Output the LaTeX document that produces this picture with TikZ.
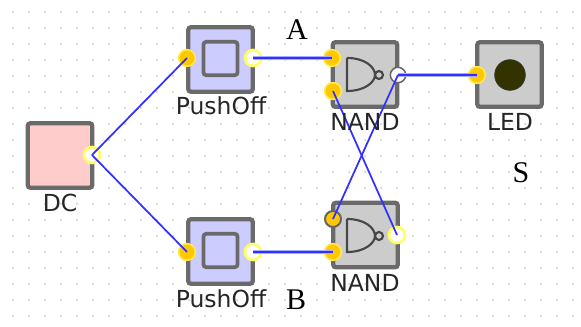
\documentclass[tikz,border=0pt]{standalone}
\usepackage{fontspec}
\setmainfont{Liberation Serif}
\newfontfamily\lblfont{DejaVu Sans}
\definecolor{edgegray}{HTML}{6A6A6A}
\definecolor{pinkfill}{HTML}{FFCCCC}
\definecolor{bluefill}{HTML}{CCCCFF}
\definecolor{grayfill}{HTML}{CCCCCC}
\definecolor{portyellow}{HTML}{FFC800}
\definecolor{whiteringc}{HTML}{FFFF66}
\definecolor{wireblue}{HTML}{3030FF}
\definecolor{ledfill}{HTML}{333300}
\tikzset{
  x=0.75pt,y=-0.75pt,
  griddot/.style={fill=black!22,draw=none},
  blockbox/.style={draw=edgegray,line width=3.2pt,rounded corners=2.2pt,minimum size=48.5pt,inner sep=0pt,outer sep=0pt},
  innerbox/.style={draw=edgegray,line width=2.8pt,rounded corners=2pt,fill=bluefill,minimum width=25.5pt,minimum height=25pt,inner sep=0pt},
  portin/.style={circle,fill=portyellow,draw=portyellow!60!yellow!70!white,line width=1.2pt,minimum size=12.5pt,inner sep=0pt},
  portinact/.style={circle,fill=portyellow,draw=black!60,line width=1.5pt,minimum size=12pt,inner sep=0pt},
  portout/.style={circle,fill=white,draw=whiteringc,line width=2pt,minimum size=12pt,inner sep=0pt},
  portoutact/.style={circle,fill=white,draw=black!60,line width=1.1pt,minimum size=11.5pt,inner sep=0pt},
  wire/.style={draw=wireblue,line width=1.3pt},
  busy/.style={draw=wireblue!40,line width=3.4pt},
  blocklabel/.style={font=\lblfont\fontsize{17.6}{17.6}\selectfont,text=black!85,inner sep=0pt},
  bigletter/.style={font=\fontsize{22.5}{22.5}\selectfont,inner sep=0pt},
  gateline/.style={draw=black!72,line width=1.6pt},
}
\begin{document}
\begin{tikzpicture}
\useasboundingbox (0,0) rectangle (581,327);
\fill[white] (0,0) rectangle (581,327);
\foreach \i in {0,...,35}{\foreach \j in {0,...,19}{
  \fill[griddot] ({13+16*\i},{12+16*\j}) circle (0.75pt);}}
% blocks
\node[blockbox,fill=pinkfill] (dc) at (60,155.5) {};
\node[blockbox,fill=bluefill] (po1) at (220.5,59.5) {};
\node[innerbox] (po1i) at (220.5,58.5) {};
\node[blockbox,fill=bluefill] (po2) at (220.5,251.5) {};
\node[innerbox] (po2i) at (220.5,250.5) {};
\node[blockbox,fill=grayfill] (n1) at (365,74.5) {};
\node[blockbox,fill=grayfill] (n2) at (365.5,235) {};
\node[blockbox,fill=grayfill] (led) at (509.5,74.5) {};
\node[circle,fill=ledfill,draw=black!80,line width=0.5pt,minimum size=23pt,inner sep=0pt] (ledc) at (510,75) {};
% gates
\draw[gateline] (347,58) -- (347,91) .. controls (365,91) and (375,82) .. (375,75) .. controls (375,67) and (365,58) .. (347,58);
\draw[gateline,fill=grayfill] (379,75) circle (3pt);
\draw[gateline] (347,219) -- (347,252) .. controls (365,252) and (375,243) .. (375,236) .. controls (375,228) and (365,219) .. (347,219);
\draw[gateline,fill=grayfill] (379,236) circle (3pt);
% ports
\node[portout] (dcout) at (92,155) {};
\node[portin] (po1in) at (187,58) {};
\node[portout] (po1out) at (253,58) {};
\node[portin] (po2in) at (187,252) {};
\node[portout] (po2out) at (253,252) {};
\node[portin] (n1a) at (332,58) {};
\node[portin] (n1b) at (333,91) {};
\node[portoutact] (n1out) at (398,75) {};
\node[portinact] (n2a) at (333,219) {};
\node[portin] (n2b) at (333,252) {};
\node[portout] (n2out) at (397,235) {};
\node[portin] (ledin) at (477,75) {};
% wires
\draw[wire] (dcout.center) -- (po1in.center);
\draw[wire] (dcout.center) -- (po2in.center);
\draw[busy] (po1out.center) -- (n1a.center);
\draw[wire] (po1out.center) -- (n1a.center);
\draw[busy] (po2out.center) -- (n2b.center);
\draw[wire] (po2out.center) -- (n2b.center);
\draw[busy] (n1out.center) -- (ledin.center);
\draw[wire] (n1out.center) -- (ledin.center);
\draw[wire] (n1out.center) -- (n2a.center);
\draw[wire] (n2out.center) -- (n1b.center);
% labels
\node[blocklabel] (ldc) at (60,203) {DC};
\node[blocklabel] (lp1) at (221,106) {PushOff};
\node[blocklabel] (lp2) at (221,299) {PushOff};
\node[blocklabel] (ln1) at (365,122) {NAND};
\node[blocklabel] (ln2) at (365,283) {NAND};
\node[blocklabel] (lled) at (510,122) {LED};
\node[bigletter] (la) at (297,30) {A};
\node[bigletter] (lb) at (296,300) {B};
\node[bigletter] (ls) at (521,173) {S};
\end{tikzpicture}
\end{document}
